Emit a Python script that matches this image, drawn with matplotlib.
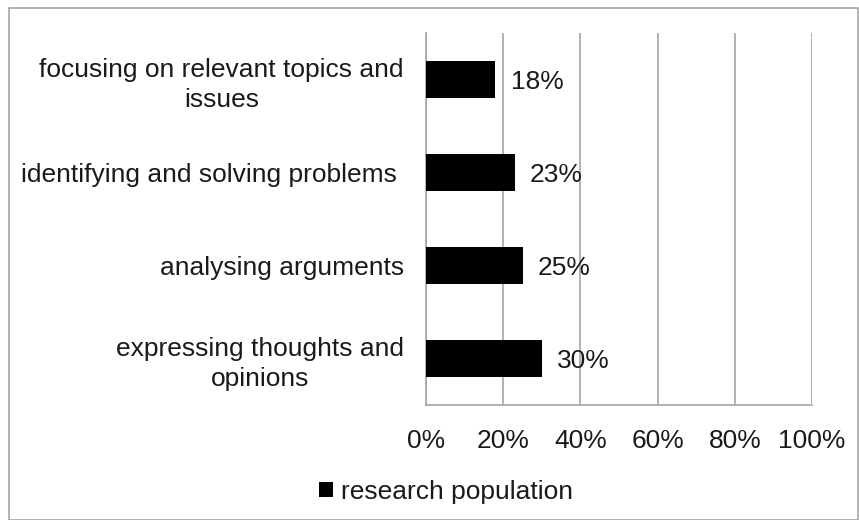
import matplotlib.pyplot as plt
from matplotlib.patches import Rectangle
from matplotlib.ticker import PercentFormatter

plt.rcParams['font.family'] = ['Liberation Sans', 'DejaVu Sans']

categories = [
    "focusing on relevant topics and\nissues",
    "identifying and solving problems ",
    "analysing arguments",
    "expressing thoughts and\nopinions",
]
values = [18, 23, 25, 30]
series_name = "research population"
x_ticks = [0, 20, 40, 60, 80, 100]

fig = plt.figure(figsize=(8.59, 5.2), dpi=100)
ax = fig.add_axes([426 / 859, 1 - 405 / 520, 386 / 859, 372 / 520])

pos = list(range(len(categories)))
ax.barh(pos, values, height=0.39, color='black', label=series_name, zorder=3)

for p, v in zip(pos, values):
    ax.annotate(f"{v}%", xy=(v, p), xytext=(11, -2), textcoords='offset points',
                ha='left', va='center', fontsize=19, color='#1a1a1a', zorder=4)

ax.set_xlim(0, 100)
ax.set_ylim(len(categories) - 0.5, -0.5)
ax.set_xticks(x_ticks)
ax.xaxis.set_major_formatter(PercentFormatter(decimals=0))
ax.set_yticks(pos)
ax.set_yticklabels(categories, multialignment='center', linespacing=1.3)
ax.tick_params(axis='both', length=0, labelsize=19, colors='#1a1a1a')
ax.tick_params(axis='x', pad=17)
ax.tick_params(axis='y', pad=16)

ax.grid(axis='x', color='#a6a6a6', linewidth=1.2, zorder=0)
ax.grid(axis='y', visible=False)
for side in ['top', 'right']:
    ax.spines[side].set_visible(False)
for side in ['left', 'bottom']:
    ax.spines[side].set_color('#a6a6a6')
    ax.spines[side].set_linewidth(1.2)

fig.legend(loc='center', bbox_to_anchor=(446 / 859, 1 - 492 / 520), frameon=False,
           fontsize=19, handlelength=0.5, handleheight=0.5, handletextpad=0.3,
           labelcolor='#1a1a1a')

# thin grey frame around the whole chart
fig.patches.append(Rectangle((9 / 859, 0), 849 / 859, 1 - 8 / 520, transform=fig.transFigure,
                             fill=False, edgecolor='#a6a6a6', linewidth=1.2))

fig.savefig('out.png', dpi=100)
